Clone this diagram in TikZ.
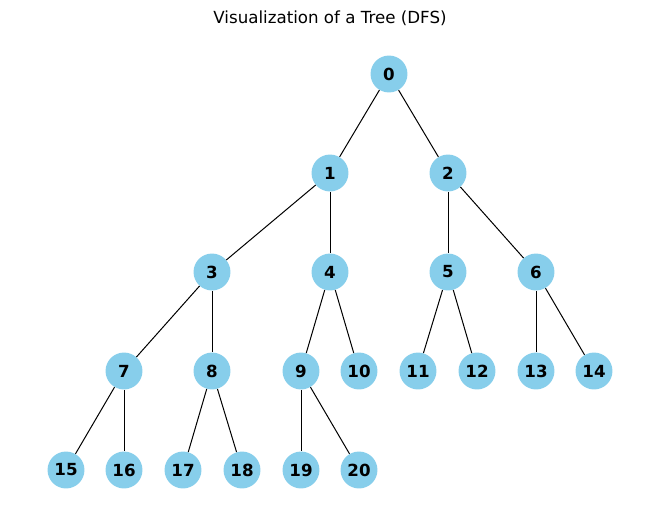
\documentclass[tikz,border=0pt]{standalone}
\usepackage{fontspec}
\setmainfont{DejaVu Sans}
\definecolor{skyblue}{HTML}{87CEEB}
\begin{document}
\begin{tikzpicture}[x=0.72pt,y=-0.72pt,
  vertex/.style={circle,fill=skyblue,draw=none,minimum size=26.6pt,inner sep=0pt,font=\fontsize{12}{14}\selectfont\bfseries},
  edge/.style={draw=black,line width=0.72pt}]
\useasboundingbox (0,0) rectangle (660,522);
\node[font=\fontsize{12}{14}\selectfont] (title) at (330,18) {Visualization of a Tree (DFS)};
\node[vertex] (n0) at (389,74) {0};
\node[vertex] (n1) at (330,173) {1};
\node[vertex] (n2) at (448,173) {2};
\node[vertex] (n3) at (212,272) {3};
\node[vertex] (n4) at (330,272) {4};
\node[vertex] (n5) at (448,272) {5};
\node[vertex] (n6) at (536,272) {6};
\node[vertex] (n7) at (124,371) {7};
\node[vertex] (n8) at (212,371) {8};
\node[vertex] (n9) at (301,371) {9};
\node[vertex] (n10) at (359,371) {10};
\node[vertex] (n11) at (418,371) {11};
\node[vertex] (n12) at (477,371) {12};
\node[vertex] (n13) at (536,371) {13};
\node[vertex] (n14) at (594,371) {14};
\node[vertex] (n15) at (66,470) {15};
\node[vertex] (n16) at (124,470) {16};
\node[vertex] (n17) at (183,470) {17};
\node[vertex] (n18) at (242,470) {18};
\node[vertex] (n19) at (301,470) {19};
\node[vertex] (n20) at (359,470) {20};
\begin{scope}[on background layer/.style={}]
\foreach \a/\b in {n0/n1,n0/n2,n1/n3,n1/n4,n2/n5,n2/n6,n3/n7,n3/n8,n4/n9,n4/n10,n5/n11,n5/n12,n6/n13,n6/n14,n7/n15,n7/n16,n8/n17,n8/n18,n9/n19,n9/n20}
  \draw[edge] (\a) -- (\b);
\end{scope}
\end{tikzpicture}
\end{document}
